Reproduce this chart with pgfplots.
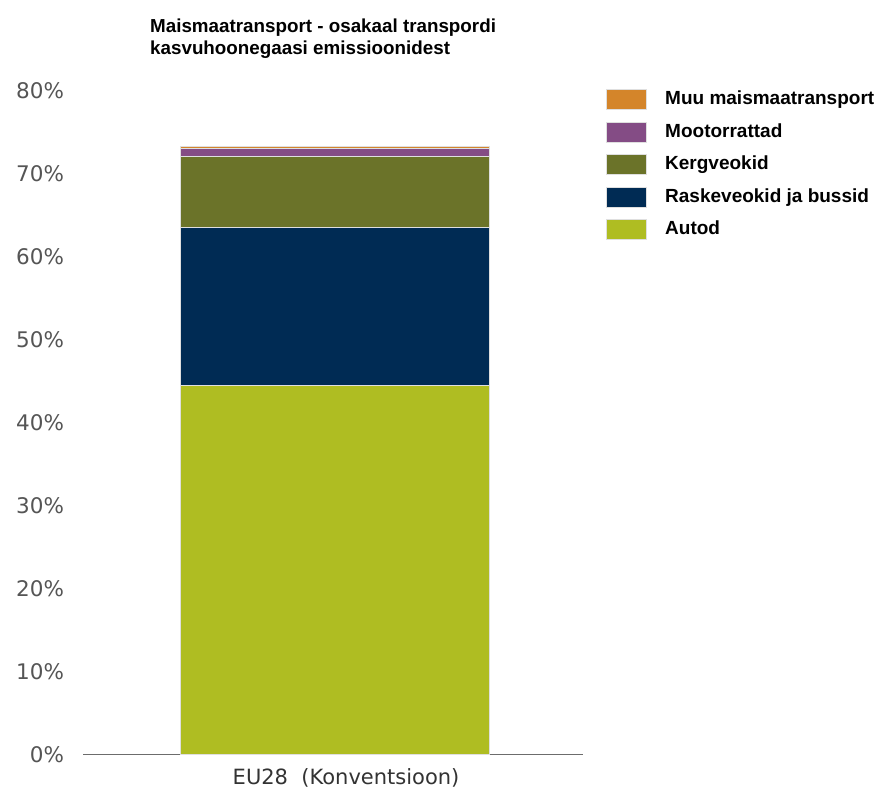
\documentclass[border=0pt]{standalone}
\usepackage{pgfplots}
\pgfplotsset{compat=1.18}
\usepackage{fontspec}
\setmainfont{DejaVu Sans}
\newfontfamily\arialb[BoldFont={* Bold}]{Liberation Sans}
\definecolor{cAutod}{HTML}{AFBD22}
\definecolor{cRaske}{HTML}{002B54}
\definecolor{cKerg}{HTML}{6B7329}
\definecolor{cMoot}{HTML}{844C85}
\definecolor{cMuu}{HTML}{D4852A}
\definecolor{tickgray}{HTML}{555555}
\begin{document}
\begin{tikzpicture}
\useasboundingbox (0,0) rectangle (875bp,789bp);
\node[anchor=north west, align=left, font=\arialb\bfseries\fontsize{18.8bp}{22bp}\selectfont, inner sep=0pt] at (150bp,770bp)
 {Maismaatransport - osakaal transpordi\\kasvuhoonegaasi emissioonidest};
\begin{axis}[
  at={(83bp,34.5bp)}, anchor=south west,
  scale only axis, width=500bp, height=664bp,
  ymin=0, ymax=80, xmin=-0.805, xmax=0.795,
  ybar stacked, bar width=309bp,
  axis x line*=bottom, axis y line*=left,
  x axis line style={draw=gray!85!black, line width=1.3bp, -},
  y axis line style={draw=none},
  ytick={0,10,...,80},
  yticklabel={\pgfmathprintnumber{\tick}\%},
  /pgf/number format/assume math mode=true,
  yticklabel style={font=\fontsize{21.5bp}{25bp}\selectfont, text=tickgray, xshift=-15.5bp},
  xtick={0}, xticklabels={EU28\ \ (Konventsioon)},
  xticklabel style={font=\fontsize{21bp}{25bp}\selectfont, text=black!80, xshift=11.5bp, yshift=-11bp},
  tick style={draw=none},
  reverse legend,
  legend style={at={(1.046,1.0022)}, anchor=north west, draw=none, fill=none, inner sep=0pt,
    font=\arialb\bfseries\fontsize{19bp}{22bp}\selectfont,
    nodes={inner sep=0pt, text height=14bp, text depth=4bp},
    row sep=11.5bp,
    /tikz/every odd column/.append style={column sep=18bp}},
  legend cell align=left,
  legend image code/.code={\fill[#1] (0bp,-10bp) rectangle (40bp,10bp);},
  every axis plot/.append style={draw=white!75!gray, line width=1bp},
]
\addplot[fill=cAutod] coordinates {(0,44.4)};
\addplot[fill=cRaske] coordinates {(0,19.1)};
\addplot[fill=cKerg] coordinates {(0,8.6)};
\addplot[fill=cMoot] coordinates {(0,0.9)};
\addplot[fill=cMuu] coordinates {(0,0.2)};
\legend{Autod,Raskeveokid ja bussid,Kergveokid,Mootorrattad,Muu maismaatransport}
\end{axis}
\end{tikzpicture}
\end{document}
